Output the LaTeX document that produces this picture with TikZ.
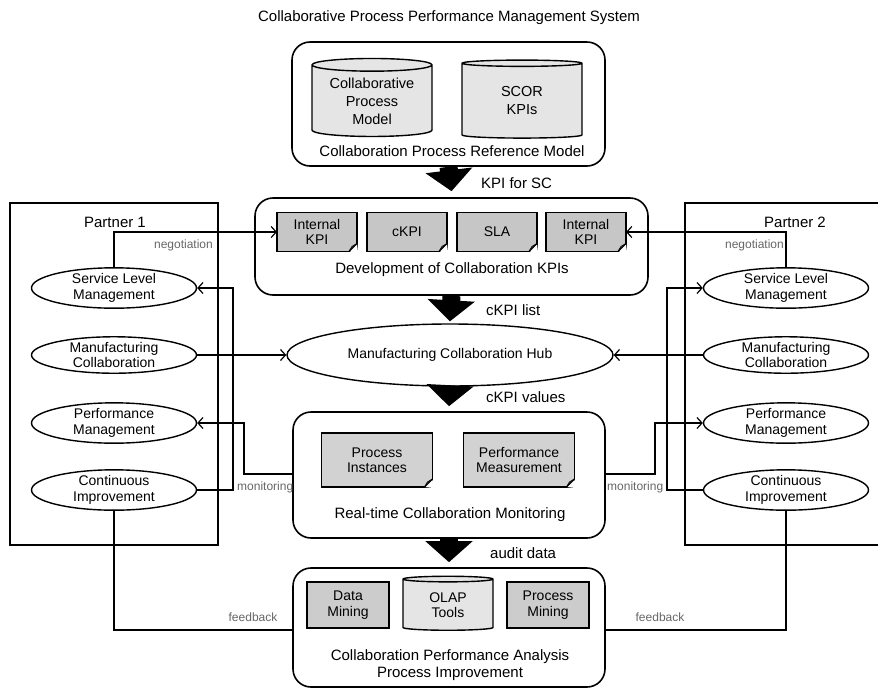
\documentclass[tikz,border=0pt]{standalone}
\usepackage{fontspec}
\setmainfont{Liberation Sans}
\usepackage{tikz}
\usetikzlibrary{positioning}
\usetikzlibrary{arrows.meta,shapes}
\usetikzlibrary{calc}
\tikzstyle{frame}=[rectangle,draw,line width=1.6pt,rounded corners=18pt,inner sep=0pt]
\tikzstyle{partner}=[rectangle,draw,line width=1.4pt,inner sep=0pt]
\tikzstyle{actor}=[ellipse,draw,line width=1.4pt,fill=white,minimum width=165pt,minimum height=36pt,inner sep=0pt,align=center,font=\fontsize{14}{15.5}\selectfont]
\tikzstyle{doc}=[rectangle,draw,line width=1.4pt,outer sep=0pt,align=center,inner sep=0pt,font=\fontsize{14}{15.5}\selectfont]
\tikzstyle{db}=[cylinder,shape border rotate=90,draw,line width=1.4pt,fill=gray!20,align=center,inner sep=0pt,font=\fontsize{14.5}{18}\selectfont]
\tikzstyle{link} = [draw,line width=1.2pt,-{Straight Barb[length=5pt,width=11pt]}]
\tikzstyle{plainlink} = [draw,line width=1.2pt]
\tikzstyle{fat} = [draw,line width=18pt,-{Triangle[length=21pt,width=46pt]}]
\tikzset{txt/.style={font=\fontsize{15}{16.5}\selectfont,align=center,inner sep=0pt}}
\tikzset{note/.style={font=\fontsize{12}{13}\selectfont,text=black!60,inner sep=0pt}}

\begin{document}
\begin{tikzpicture}[x=1pt,y=-1pt]
 \useasboundingbox (0,0) rectangle (878,689);
 \clip (0,0) rectangle (878,689);

 \node[txt] (title) at (449,18) {Collaborative Process Performance Management System};

 %reference model
 \node[frame,minimum width=313pt,minimum height=124pt] (refbox) at (448.5,104) {};
 \node[db,minimum width=120pt,minimum height=78pt,aspect=0.15] (cpm) at (372,101) {Collaborative\\Process\\Model};
 \node[db,minimum width=120pt,minimum height=78pt,aspect=0.15] (scor) at (522,101) {SCOR\\KPIs};
 \node[txt] (reflabel) at (452,151) {Collaboration Process Reference Model};

 %KPI development
 \node[frame,minimum width=393pt,minimum height=97pt] (devbox) at (451.5,246.5) {};
 \foreach \x/\name/\label in {317/ik1/{Internal\\KPI}, 407/ckpi/cKPI, 497/sla/SLA, 586/ik2/{Internal\\KPI}}
          \node[doc,fill=gray!45,minimum width=80pt,minimum height=39pt] (\name) at (\x,232) {\label};
 \node[txt] (devlabel) at (452,270) {Development of Collaboration KPIs};

 %hub
 \node[actor,minimum width=326pt,minimum height=62pt] (hub) at (450,355) {Manufacturing Collaboration Hub};

 %monitoring
 \node[frame,minimum width=312pt,minimum height=126pt] (monbox) at (449,475) {};
 \foreach \x/\name/\label in {377/pi/{Process\\Instances}, 519/pm/{Performance\\Measurement}}
          \node[doc,fill=gray!35,minimum width=111pt,minimum height=54pt] (\name) at (\x,460) {\label};
 \node[txt] (monlabel) at (450,515) {Real-time Collaboration Monitoring};

 %analysis
 \node[frame,minimum width=312pt,minimum height=119pt] (anabox) at (449,627.5) {};
 \node[doc,fill=gray!40,minimum width=82pt,minimum height=46pt] (dm) at (348,605) {Data\\Mining};
 \node[db,minimum width=90pt,minimum height=54pt,aspect=0.15,font=\fontsize{14}{15.5}\selectfont] (olap) at (448,605) {OLAP\\Tools};
 \node[doc,fill=gray!40,minimum width=82pt,minimum height=46pt] (prm) at (548,605) {Process\\Mining};
 \node[txt] (analabel) at (450,665) {Collaboration Performance Analysis\\Process Improvement};

 %folded corners
 \foreach \d in {ik1,ckpi,sla,ik2,pi,pm} {
   \fill[white] ([xshift=-8pt]\d.south east) -- ([shift={(1pt,-1pt)}]\d.south east) -- ([yshift=8pt]\d.south east) -- cycle;
   \draw[line width=1.2pt] ([xshift=-8pt]\d.south east) -- ([yshift=8pt]\d.south east);
   \draw[line width=0.8pt] ([xshift=-8pt]\d.south east) -- ([shift={(-5pt,5pt)}]\d.south east) -- ([yshift=8pt]\d.south east);
 }

 %partners
 \node[partner,minimum width=208pt,minimum height=342pt] (p1) at (114,374) {};
 \node[partner,minimum width=205pt,minimum height=342pt] (p2) at (787.5,374) {};
 \node[txt] (p1label) at (115,222) {Partner 1};
 \node[txt] (p2label) at (795,222) {Partner 2};
 \foreach \y/\name/\label in {288/sl/{Service Level\\Management}, 355/mc/{Manufacturing\\Collaboration}, 423/pf/{Performance\\Management}, 490/ci/{Continuous\\Improvement}} {
          \node[actor] (\name1) at (114,\y) {\label};
          \node[actor] (\name2) at (786,\y) {\label};
 }

 %fat arrows
 \draw[fat] (refbox.south) -- ([yshift=6pt]devbox.north);
 \draw[fat] (devbox.south) -- ([yshift=2pt]hub.north);
 \draw[fat] (hub.south) -- ([yshift=5pt]monbox.north);
 \draw[fat] (monbox.south) -- ([yshift=5pt]anabox.north);
 \node[txt,anchor=west] (a1) at (481,183) {KPI for SC};
 \node[txt,anchor=west] (a2) at (486,310) {cKPI list};
 \node[txt,anchor=west] (a3) at (486,397) {cKPI values};
 \node[txt,anchor=west] (a4) at (490,553) {audit data};

 %negotiation
 \path[link] (sl1.north) |- (ik1.west);
 \path[link] (sl2.north) |- (ik2.east);
 \node[note,anchor=east] (n1) at (213,245) {negotiation};
 \node[note,anchor=east] (n2) at (784,245) {negotiation};

 %hub links
 \path[link] (mc1.east) -- (hub.west);
 \path[link] (mc2.west) -- (hub.east);

 %monitoring links
 \coordinate (m1) at (244,474);
 \coordinate (m2) at (233,490);
 \coordinate (m3) at (655,474);
 \coordinate (m4) at (667,490);
 \path[link] (m1 -| monbox.west) -- (m1) |- (pf1.east);
 \path[link] (ci1.east) -- (m2) |- (sl1.east);
 \path[link] (m3 -| monbox.east) -- (m3) |- (pf2.west);
 \path[link] (ci2.west) -- (m4) |- (sl2.west);
 \node[note,anchor=west] (mo1) at (237,487) {monitoring};
 \node[note,anchor=west] (mo2) at (607,487) {monitoring};

 %feedback
 \coordinate (f1) at (0,630);
 \path[plainlink] (ci1.south) |- (f1 -| anabox.west);
 \path[plainlink] (ci2.south) |- (f1 -| anabox.east);
 \node[note] (fb1) at (253,617) {feedback};
 \node[note] (fb2) at (660,617) {feedback};

\end{tikzpicture}
\end{document}
